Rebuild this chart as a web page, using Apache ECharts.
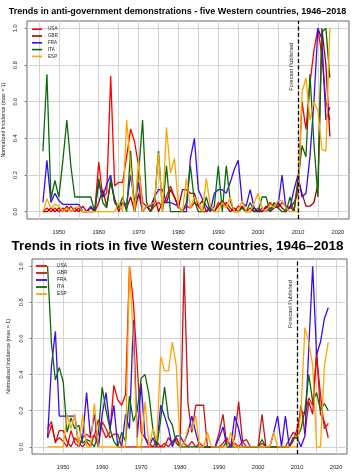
<!DOCTYPE html>
<html><head><meta charset="utf-8">
<script src="https://cdn.jsdelivr.net/npm/echarts@6/dist/echarts.min.js"></script>
<style>html,body{margin:0;padding:0;background:#fff;}#c{width:355px;height:474px;}</style>
</head><body><div id="c"></div>
<script>
const years = [1946,1947,1948,1949,
 1950,1951,1952,1953,1954,1955,1956,1957,1958,1959,
 1960,1961,1962,1963,1964,1965,1966,1967,1968,1969,
 1970,1971,1972,1973,1974,1975,1976,1977,1978,1979,
 1980,1981,1982,1983,1984,1985,1986,1987,1988,1989,
 1990,1991,1992,1993,1994,1995,1996,1997,1998,1999,
 2000,2001,2002,2003,2004,2005,2006,2007,2008,2009,
 2010,2011,2012,2013,2014,2015,2016,2017,2018];
const countries = ['USA','GBR','FRA','ITA','ESP'];

// Anti-government demonstrations (normalized, max = 1)
const demoUSA = [0.00,0.02,0.00,0.02,
 0.00,0.02,0.00,0.03,0.00,0.02,0.00,0.00,0.02,0.00,
 0.27,0.08,0.10,0.74,0.14,0.16,0.16,0.30,0.45,0.38,
 0.25,0.05,0.03,0.00,0.03,0.05,0.03,0.08,0.14,0.08,
 0.03,0.00,0.03,0.02,0.05,0.03,0.00,0.00,0.02,0.00,
 0.05,0.03,0.05,0.02,0.00,0.03,0.02,0.00,0.02,0.00,
 0.02,0.00,0.02,0.05,0.03,0.02,0.05,0.03,0.02,0.05,
 0.10,0.60,0.45,0.70,0.88,1.00,0.85,0.60,0.50];
const demoGBR = [0.00,0.00,0.02,0.00,
 0.02,0.00,0.03,0.00,0.02,0.00,0.03,0.00,0.00,0.00,
 0.05,0.12,0.03,0.16,0.07,0.00,0.05,0.02,0.08,0.00,
 0.10,0.00,0.03,0.00,0.08,0.00,0.05,0.05,0.12,0.08,
 0.02,0.12,0.12,0.10,0.10,0.03,0.06,0.00,0.03,0.00,
 0.03,0.06,0.03,0.00,0.02,0.00,0.03,0.00,0.00,0.02,
 0.00,0.00,0.03,0.00,0.02,0.05,0.02,0.00,0.03,0.00,
 0.18,0.10,0.03,0.03,0.05,0.15,1.00,0.80,0.41];
const demoFRA = [0.05,0.28,0.05,0.10,
 0.06,0.04,0.04,0.04,0.04,0.04,0.00,0.00,0.03,0.00,
 0.16,0.08,0.15,0.20,0.05,0.03,0.05,0.04,0.20,0.05,
 0.16,0.00,0.03,0.03,0.08,0.12,0.12,0.05,0.05,0.04,
 0.03,0.00,0.00,0.29,0.40,0.12,0.07,0.03,0.00,0.10,
 0.12,0.12,0.10,0.16,0.23,0.28,0.05,0.03,0.12,0.02,
 0.00,0.02,0.00,0.02,0.02,0.03,0.20,0.01,0.02,0.12,
 0.20,0.08,0.10,0.30,0.60,1.00,0.94,0.50,0.57];
const demoITA = [0.33,0.75,0.07,0.17,
 0.08,0.28,0.50,0.25,0.08,0.08,0.08,0.08,0.08,0.00,
 0.18,0.05,0.02,0.18,0.05,0.02,0.08,0.00,0.33,0.00,
 0.21,0.50,0.05,0.00,0.05,0.33,0.00,0.25,0.00,0.00,
 0.00,0.00,0.05,0.25,0.06,0.00,0.00,0.08,0.00,0.03,
 0.25,0.00,0.25,0.06,0.00,0.00,0.02,0.00,0.05,0.00,
 0.00,0.08,0.08,0.00,0.05,0.02,0.00,0.00,0.08,0.00,
 0.16,0.36,0.30,0.75,0.37,0.08,0.98,1.00,0.73];
const demoESP = [0.00,0.07,0.02,0.04,
 0.03,0.00,0.02,0.00,0.02,0.03,0.00,0.00,0.00,0.00,
 0.00,0.00,0.00,0.00,0.00,0.05,0.00,0.50,0.25,0.00,
 0.28,0.00,0.03,0.04,0.05,0.32,0.00,0.46,0.21,0.29,
 0.03,0.00,0.18,0.02,0.08,0.05,0.00,0.18,0.03,0.00,
 0.00,0.05,0.02,0.08,0.00,0.00,0.06,0.00,0.00,0.05,
 0.10,0.02,0.00,0.04,0.02,0.06,0.06,0.02,0.00,0.00,
 0.00,0.65,0.73,0.50,0.60,0.55,0.34,0.33,1.00];

// Riots (normalized, max = 1)
const riotUSA = [0.05,0.12,0.03,0.05,
 0.03,0.00,0.09,0.02,0.00,0.05,0.07,0.05,0.06,0.15,
 0.10,0.05,0.08,0.34,0.26,0.23,0.29,1.00,0.80,0.45,
 0.08,0.05,0.02,0.00,0.03,0.00,0.02,0.00,0.03,0.05,
 0.00,0.02,0.00,0.03,0.00,0.02,0.00,0.00,0.00,0.00,
 0.00,0.02,0.05,0.00,0.02,0.00,0.03,0.00,0.00,0.00,
 0.00,0.02,0.00,0.00,0.00,0.00,0.00,0.00,0.00,0.03,
 0.10,0.20,0.18,0.27,0.23,0.50,0.29,0.10,0.13];
const riotGBR = [0.10,0.14,0.02,0.09,
 0.09,0.03,0.00,0.05,0.02,0.00,0.03,0.00,0.07,0.00,
 0.14,0.10,0.05,0.07,0.07,0.00,0.00,0.00,0.00,0.00,
 0.00,0.00,0.00,0.00,0.00,0.00,0.00,0.05,0.02,0.05,
 0.00,1.00,0.24,0.08,0.23,0.23,0.23,0.00,0.00,0.00,
 0.08,0.18,0.00,0.00,0.05,0.25,0.03,0.04,0.00,0.00,
 0.00,0.18,0.00,0.00,0.00,0.00,0.00,0.00,0.04,0.08,
 0.06,0.23,0.07,0.25,0.18,0.54,0.18,0.14,0.05];
const riotFRA = [0.05,0.45,0.64,0.17,
 0.17,0.17,0.17,0.17,0.00,0.05,0.30,0.05,0.18,0.00,
 0.18,0.30,0.10,0.23,0.00,0.00,0.18,0.10,0.70,0.05,
 0.35,0.05,0.00,0.05,0.00,0.23,0.17,0.10,0.00,0.06,
 0.06,0.02,0.08,0.17,0.08,0.00,0.00,0.00,0.00,0.00,
 0.05,0.11,0.00,0.00,0.17,0.10,0.00,0.00,0.00,0.00,
 0.00,0.00,0.00,0.00,0.08,0.17,0.00,0.17,0.00,0.05,
 0.05,0.00,0.06,0.55,1.00,0.51,0.58,0.71,0.77];
const riotITA = [1.00,0.57,0.37,0.44,
 0.36,0.08,0.16,0.10,0.12,0.02,0.04,0.03,0.00,0.07,
 0.33,0.20,0.10,0.03,0.00,0.08,0.03,0.28,0.14,0.20,
 0.38,0.40,0.29,0.10,0.00,0.15,0.33,0.16,0.12,0.02,
 0.00,0.00,0.00,0.00,0.00,0.00,0.00,0.00,0.00,0.00,
 0.00,0.00,0.03,0.00,0.00,0.00,0.00,0.00,0.00,0.00,
 0.00,0.04,0.00,0.00,0.00,0.00,0.00,0.00,0.00,0.05,
 0.05,0.10,0.20,0.40,0.25,0.30,0.20,0.24,0.20];
const riotESP = [0.00,0.00,0.00,0.00,
 0.00,0.18,0.10,0.18,0.00,0.18,0.00,0.00,0.24,0.00,
 0.00,0.00,0.00,0.00,0.00,0.00,0.00,1.00,0.60,0.00,
 0.00,0.25,0.00,0.10,0.03,0.50,0.42,0.42,0.58,0.45,
 0.00,0.02,0.10,0.10,0.17,0.00,0.00,0.08,0.00,0.00,
 0.00,0.00,0.00,0.08,0.00,0.00,0.00,0.00,0.00,0.00,
 0.00,0.00,0.00,0.00,0.08,0.00,0.00,0.00,0.00,0.00,
 0.00,0.20,0.66,0.58,0.45,0.00,0.00,0.45,0.58];

const xTicks = [1950,1960,1970,1980,1990,2000,2010,2020];
const yTicks = [0,0.2,0.4,0.6,0.8,1.0];
const vGrid = [1945,1950,1955,1960,1965,1970,1975,1980,1985,1990,1995,2000,2005,2010,2015,2020];
const forecastYear = 2010;
const topTitle = 'Trends in anti-government demonstrations - five Western countries, 1946\u20132018';
const bottomTitle = 'Trends in riots in five Western countries, 1946\u20132018';
const yName = 'Normalized Incidence (max = 1)';
const forecastLabel = 'Forecast Published';

const colorsTop = ['#FF0000','#A80000','#3A0AF5','#0A6A0A','#FFA500'];
const colorsBot = ['#FF0000','#C41414','#3A0AF5','#0A6A0A','#FFA500'];
const FONT = "'Liberation Sans', Arial, Helvetica, sans-serif";

const demo = [demoUSA, demoGBR, demoFRA, demoITA, demoESP];
const riot = [riotUSA, riotGBR, riotFRA, riotITA, riotESP];

function pairs(vals){ return years.map((y,i)=>[y, vals[i]]); }

function axesFor(gi, labelFs, xMargin, yMargin, nameGap){
  return {
    x: {gridIndex:gi, type:'value', min:1942, max:2022.8,
        axisLine:{show:false}, splitLine:{show:false},
        axisTick:{show:false, customValues:xTicks},
        axisLabel:{customValues:xTicks, fontSize:labelFs, color:'#222', margin:xMargin, fontFamily:FONT,
          formatter:(v)=>String(v)}},
    y: {gridIndex:gi, type:'value', min:-0.04, max:1.04,
        axisLine:{show:false}, splitLine:{show:false},
        axisTick:{show:true, customValues:yTicks, length:2.5, lineStyle:{color:'#666', width:0.8}},
        axisLabel:{customValues:yTicks, fontSize:labelFs, color:'#222', margin:yMargin, rotate:90, fontFamily:FONT,
          formatter:(v)=>v.toFixed(1)},
        name:yName, nameLocation:'middle', nameRotate:90, nameGap:nameGap, nameMoveOverlap:false,
        nameTextStyle:{fontSize:5.3, color:'#222', fontFamily:FONT}}
  };
}
const a0 = axesFor(0, 5.7, 10, 9, 21);
const a1 = axesFor(1, 5.7, 10, 8, 21.3);

function gridSeries(gi){
  return {type:'line', xAxisIndex:gi, yAxisIndex:gi, data:[], silent:true, z:1,
    markLine:{silent:true, symbol:'none', z:1, animation:false, label:{show:false},
      lineStyle:{color:'#d4d4d4', width:1, type:'solid'},
      data: vGrid.map(v=>({xAxis:v})).concat(yTicks.map(v=>({yAxis:v})))}};
}
function forecastSeries(gi){
  return {type:'line', xAxisIndex:gi, yAxisIndex:gi, data:[], silent:true, z:6,
    markLine:{silent:true, symbol:'none', z:6, animation:false, label:{show:false},
      lineStyle:{color:'#000', width:1.3, type:[4,2.5]},
      data:[{xAxis:forecastYear}]}};
}

const series = [gridSeries(0), gridSeries(1)];
countries.forEach((c,i)=>{
  series.push({name:c, type:'line', xAxisIndex:0, yAxisIndex:0, data:pairs(demo[i]),
    showSymbol:false, symbol:'none', z:3, lineStyle:{color:colorsTop[i], width:1.3}, itemStyle:{color:colorsTop[i]}});
});
countries.forEach((c,i)=>{
  series.push({name:c, type:'line', xAxisIndex:1, yAxisIndex:1, data:pairs(riot[i]),
    showSymbol:false, symbol:'none', z:3, lineStyle:{color:colorsBot[i], width:1.3}, itemStyle:{color:colorsBot[i]}});
});
series.push(forecastSeries(0), forecastSeries(1));

const option = {
  animation:false,
  backgroundColor:'#fff',
  title:[
    {text:topTitle, left:'center', top:7, padding:0,
     textStyle:{fontSize:9, fontWeight:'bold', color:'#000', fontFamily:FONT}},
    {text:bottomTitle, left:'center', top:239.5, padding:0,
     textStyle:{fontSize:13.5, fontWeight:'bold', color:'#000', fontFamily:FONT}}
  ],
  legend:[
    {left:32, top:25.8, orient:'vertical', padding:0, itemGap:0, icon:'rect', itemWidth:10, itemHeight:1.6,
     textStyle:{fontSize:4.6, lineHeight:6.8, color:'#222', fontFamily:FONT, padding:[0,0,0,1]},
     data:countries.map((n,i)=>({name:n, itemStyle:{color:colorsTop[i]}})) , selectedMode:false},
    {left:36, top:262.5, orient:'vertical', padding:0, itemGap:0, icon:'rect', itemWidth:11, itemHeight:1.8,
     textStyle:{fontSize:4.8, lineHeight:7, color:'#222', fontFamily:FONT, padding:[0,0,0,5]},
     data:countries.map((n,i)=>({name:n, itemStyle:{color:colorsBot[i]}})), selectedMode:false}
  ],
  grid:[
    {left:27, top:21, width:322, height:198, show:true, borderColor:'#666', borderWidth:1, backgroundColor:'transparent', outerBoundsMode:'none', containLabel:false},
    {left:32, top:259, width:315, height:195, show:true, borderColor:'#666', borderWidth:1, backgroundColor:'transparent', outerBoundsMode:'none', containLabel:false}
  ],
  xAxis:[a0.x, a1.x],
  yAxis:[a0.y, a1.y],
  series:series
};

const chart = echarts.init(document.getElementById('c'), null, {renderer:'canvas'});
chart.setOption(option);

const p0 = chart.convertToPixel({xAxisIndex:0, yAxisIndex:0}, [forecastYear, 0.79]);
const p1 = chart.convertToPixel({xAxisIndex:1, yAxisIndex:1}, [forecastYear, 0.79]);
chart.setOption({graphic:[
  {type:'text', x:p0[0]-6.5, y:p0[1], rotation:Math.PI/2,
   style:{text:forecastLabel, fontSize:5.6, fill:'#222', fontFamily:FONT, align:'center', verticalAlign:'middle'}},
  {type:'text', x:p1[0]-7, y:p1[1], rotation:Math.PI/2,
   style:{text:forecastLabel, fontSize:5.6, fill:'#222', fontFamily:FONT, align:'center', verticalAlign:'middle'}}
]});
</script></body></html>
